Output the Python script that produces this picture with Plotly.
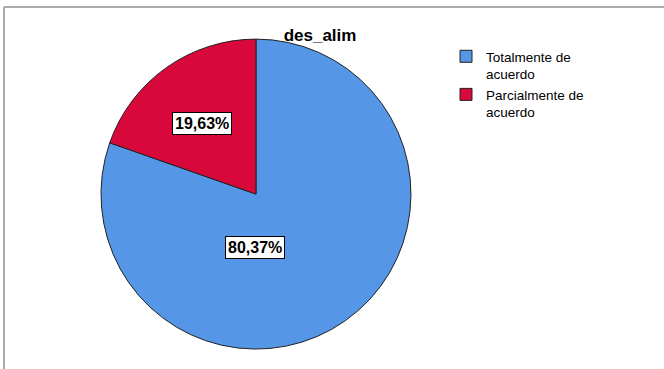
import plotly.graph_objects as go

# chart data
categories = ["Totalmente de<br>acuerdo", "Parcialmente de<br>acuerdo"]
percents = [80.37, 19.63]
colors = ["#5596E6", "#D8083A"]
title_text = "des_alim"

W, H = 664, 369

fig = go.Figure()

fig.add_trace(go.Pie(
    labels=categories,
    values=percents,
    sort=False,
    direction="clockwise",
    rotation=0,
    marker=dict(colors=colors, line=dict(color="#222222", width=1)),
    textinfo="none",
    hoverinfo="label+percent",
    domain=dict(x=[0.152, 0.619], y=[0.054, 0.894]),
))

# percent labels as boxed annotations
label_pos = [(0.384, 0.328), (0.304, 0.664)]
for p, (x, y) in zip(percents, label_pos):
    fig.add_annotation(
        x=x, y=y, xref="paper", yref="paper", xanchor="center", yanchor="middle",
        text="<b>%s</b>" % ("%.2f%%" % p).replace(".", ","),
        showarrow=False,
        font=dict(family="Arial", size=16, color="black"),
        bgcolor="white", bordercolor="black", borderwidth=1, borderpad=2,
    )

# frame (top and left edge)
fig.add_shape(type="line", xref="paper", yref="paper", x0=4/W, x1=1, y0=1-7/H, y1=1-7/H,
              line=dict(color="#AAAAAA", width=2))
fig.add_shape(type="line", xref="paper", yref="paper", x0=4/W, x1=4/W, y0=0, y1=1-7/H,
              line=dict(color="#AAAAAA", width=2))

fig.update_layout(
    width=W, height=H,
    margin=dict(l=0, r=0, t=0, b=0),
    paper_bgcolor="white", plot_bgcolor="white",
    title=dict(text="<b>%s</b>" % title_text, x=0.482, xanchor="center", y=1-35/H, yanchor="middle",
               font=dict(family="Arial", size=17, color="black")),
    showlegend=True,
    legend=dict(x=446/W, y=1-41/H, xanchor="left", yanchor="top",
                font=dict(family="Arial", size=13.5, color="black"),
                valign="top", itemwidth=30, tracegroupgap=0, bgcolor="rgba(0,0,0,0)"),
)

fig.write_html("out.html", config={"displayModeBar": False},
               post_script="document.body.style.margin='0';")
